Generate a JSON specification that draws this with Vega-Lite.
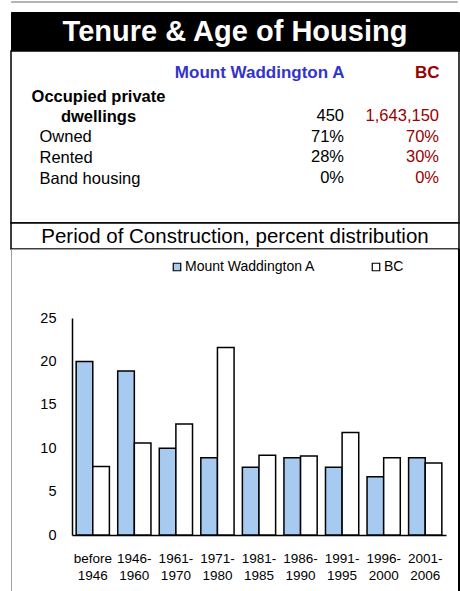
{
  "$schema": "https://vega.github.io/schema/vega-lite/v6.json",
  "background": "white",
  "padding": {"left": 10, "top": 0, "right": 2, "bottom": 0},
  "spacing": 10,
  "bounds": "flush",
  "resolve": {"scale": {"color": "independent"}, "legend": {"color": "independent"}},
  "config": {"font": "Liberation Sans", "view": {"stroke": null}},
  "datasets": {
    "tenure": [
      {"item": "Occupied private\ndwellings", "level": "total", "Mount Waddington A": 450, "BC": 1643150},
      {"item": "Owned", "level": "share", "Mount Waddington A": 0.71, "BC": 0.70},
      {"item": "Rented", "level": "share", "Mount Waddington A": 0.28, "BC": 0.30},
      {"item": "Band housing", "level": "share", "Mount Waddington A": 0.0, "BC": 0.0}
    ],
    "construction": [
      {"period": "before 1946", "series": "Mount Waddington A", "pct": 20.0},
      {"period": "before 1946", "series": "BC", "pct": 7.9},
      {"period": "1946-1960", "series": "Mount Waddington A", "pct": 18.9},
      {"period": "1946-1960", "series": "BC", "pct": 10.6},
      {"period": "1961-1970", "series": "Mount Waddington A", "pct": 10.0},
      {"period": "1961-1970", "series": "BC", "pct": 12.8},
      {"period": "1971-1980", "series": "Mount Waddington A", "pct": 8.9},
      {"period": "1971-1980", "series": "BC", "pct": 21.6},
      {"period": "1981-1985", "series": "Mount Waddington A", "pct": 7.8},
      {"period": "1981-1985", "series": "BC", "pct": 9.2},
      {"period": "1986-1990", "series": "Mount Waddington A", "pct": 8.9},
      {"period": "1986-1990", "series": "BC", "pct": 9.1},
      {"period": "1991-1995", "series": "Mount Waddington A", "pct": 7.8},
      {"period": "1991-1995", "series": "BC", "pct": 11.8},
      {"period": "1996-2000", "series": "Mount Waddington A", "pct": 6.7},
      {"period": "1996-2000", "series": "BC", "pct": 8.9},
      {"period": "2001-2006", "series": "Mount Waddington A", "pct": 8.9},
      {"period": "2001-2006", "series": "BC", "pct": 8.3}
    ]
  },
  "vconcat": [
    {
      "width": 446,
      "height": 1,
      "view": {"stroke": "#B4B4B4", "strokeWidth": 1},
      "data": {"values": [{}]},
      "mark": {"type": "rule", "color": "#B4B4B4", "strokeWidth": 1},
      "encoding": {"x": {"value": 0}, "x2": {"value": "width"}, "y": {"value": "height"}}
    },
    {
      "spacing": 0,
      "bounds": "flush",
      "resolve": {"scale": {"color": "independent"}, "legend": {"color": "independent"}},
      "vconcat": [
        {
          "width": 448,
          "height": 39,
          "view": {"fill": "black", "stroke": "black"},
          "data": {"values": [{"title": "Tenure & Age of Housing"}]},
          "mark": {"type": "text", "color": "white", "fontSize": 29, "fontWeight": "bold", "baseline": "middle"},
          "encoding": {"text": {"field": "title"}}
        },
        {
          "width": 448,
          "height": 172,
          "view": {"stroke": "black", "strokeWidth": 1.5, "fill": "white"},
          "data": {"name": "tenure"},
          "transform": [{"fold": ["Mount Waddington A", "BC"], "as": ["region", "value"]}],
          "encoding": {
            "x": {
              "field": "region", "type": "nominal", "sort": ["Mount Waddington A", "BC"],
              "scale": {"type": "point", "range": [333, 428], "padding": 0},
              "axis": {
                "orient": "top", "offset": -26, "title": null, "domain": false, "ticks": false, "grid": false,
                "labelPadding": 0, "labelAngle": 0, "labelAlign": "right", "labelBaseline": "alphabetic",
                "labelFontWeight": "bold", "labelFontSize": 17, "labelLimit": 400,
                "labelColor": {"condition": {"test": "datum.value == 'BC'", "value": "#990000"}, "value": "#3333CC"}
              }
            },
            "y": {
              "field": "item", "type": "nominal", "sort": null,
              "scale": {"type": "point", "range": [70, 132], "padding": 0},
              "axis": {
                "orient": "left", "offset": -28, "title": null, "domain": false, "ticks": false, "grid": false,
                "labelBaseline": "alphabetic", "labelFontSize": 16.5, "labelColor": "black",
                "labelLimit": 400, "labelLineHeight": 19.5, "labelOverlap": false,
                "labelExpr": "split(datum.label, '\\n')",
                "labelAlign": {"condition": {"test": "indexof(datum.value, 'Occupied') == 0", "value": "center"}, "value": "left"},
                "labelPadding": {"condition": {"test": "indexof(datum.value, 'Occupied') == 0", "value": -59}, "value": 0},
                "labelOffset": {"condition": {"test": "indexof(datum.value, 'Occupied') == 0", "value": -19.5}, "value": 0},
                "labelFontWeight": {"condition": {"test": "indexof(datum.value, 'Occupied') == 0", "value": "bold"}, "value": "normal"}
              }
            },
            "color": {"condition": {"test": "datum.region == 'BC'", "value": "#990000"}, "value": "black"}
          },
          "layer": [
            {
              "transform": [{"filter": "datum.level == 'total'"}],
              "mark": {"type": "text", "align": "right", "baseline": "alphabetic", "fontSize": 16.5},
              "encoding": {"text": {"field": "value", "type": "quantitative", "format": ","}}
            },
            {
              "transform": [{"filter": "datum.level != 'total'"}],
              "mark": {"type": "text", "align": "right", "baseline": "alphabetic", "fontSize": 16.5},
              "encoding": {"text": {"field": "value", "type": "quantitative", "format": ".0%"}}
            }
          ]
        },
        {
          "width": 448,
          "height": 26,
          "view": {"stroke": "black", "strokeWidth": 1.5, "fill": "white"},
          "data": {"values": [{"subtitle": "Period of Construction, percent distribution"}]},
          "mark": {"type": "text", "color": "black", "fontSize": 20.5, "baseline": "middle", "dy": 1},
          "encoding": {"text": {"field": "subtitle"}}
        },
        {
          "width": 448,
          "height": 343,
          "view": {"stroke": "#A0A0A0", "strokeWidth": 1, "fill": "white"},
          "layer": [
            {
              "data": {"name": "construction"},
              "mark": {"type": "bar", "stroke": "black", "strokeWidth": 1.5},
              "encoding": {
                "x": {
                  "field": "period", "type": "nominal", "sort": null,
                  "scale": {"range": [61, 435], "paddingInner": 0.2, "paddingOuter": 0.1},
                  "axis": {
                    "orient": "bottom", "offset": -57, "title": null, "ticks": false, "grid": false,
                    "domainColor": "black", "domainWidth": 1.5, "labelAngle": 0,
                    "labelExpr": "indexof(datum.label, '-') > 0 ? [slice(datum.label, 0, 5), slice(datum.label, 5)] : split(datum.label, ' ')",
                    "labelBaseline": "top", "labelPadding": 16.5, "labelFontSize": 13.5, "labelLineHeight": 16.5,
                    "labelColor": "black", "labelOverlap": false, "labelLimit": 200
                  }
                },
                "xOffset": {"field": "series", "type": "nominal", "sort": ["Mount Waddington A", "BC"]},
                "y": {
                  "field": "pct", "type": "quantitative",
                  "scale": {"domain": [0, 25], "range": [286, 69], "nice": false},
                  "axis": {
                    "orient": "left", "offset": -61, "title": null, "ticks": false, "grid": false,
                    "domainColor": "black", "domainWidth": 1.5, "values": [0, 5, 10, 15, 20, 25],
                    "labelFontSize": 14.5, "labelPadding": 16, "labelColor": "black"
                  }
                },
                "color": {
                  "field": "series", "type": "nominal", "sort": ["Mount Waddington A", "BC"],
                  "scale": {"domain": ["Mount Waddington A", "BC"], "range": ["#A6CAF0", "#FFFFFF"]},
                  "legend": {
                    "orient": "none", "legendX": 159, "legendY": 11, "direction": "horizontal", "title": null,
                    "symbolType": "square", "symbolSize": 56, "symbolStrokeColor": "black", "symbolStrokeWidth": 1.2,
                    "labelFontSize": 14, "labelOffset": 1, "columnPadding": 53, "labelColor": "black", "padding": 0
                  }
                }
              }
            },
            {
              "data": {"values": [{}]},
              "mark": {"type": "rule", "color": "black", "strokeWidth": 2},
              "encoding": {"x": {"value": "width"}, "y": {"value": 0}, "y2": {"value": "height"}}
            }
          ]
        }
      ]
    }
  ]
}
